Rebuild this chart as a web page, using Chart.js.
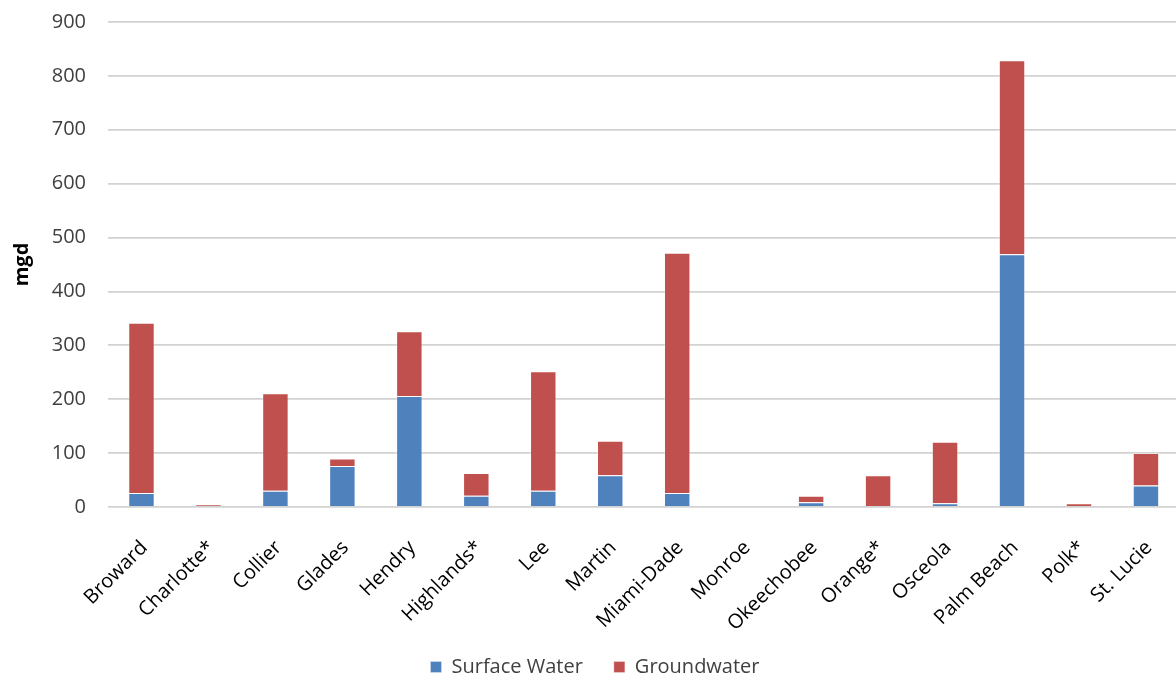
<!DOCTYPE html>
<html>
<head>
<meta charset="utf-8">
<script src="https://cdn.jsdelivr.net/npm/chart.js@4.4.1/dist/chart.umd.min.js"></script>
<style>
  html, body { margin: 0; padding: 0; background: #ffffff; overflow: hidden; }
  #wrap { position: relative; width: 1192px; height: 689px; margin-top: -12px; }
</style>
</head>
<body>
<div id="wrap"><canvas id="chart"></canvas></div>
<script>
// Water withdrawals by county (mgd), split by source
const counties = ["Broward", "Charlotte*", "Collier", "Glades", "Hendry", "Highlands*", "Lee", "Martin",
  "Miami-Dade", "Monroe", "Okeechobee", "Orange*", "Osceola", "Palm Beach", "Polk*", "St. Lucie"];
const surfaceWater = [26, 0, 30, 76, 206, 21, 30, 59, 26, 0, 9, 0, 7, 469, 0, 40];
const groundwater = [316, 5, 181, 14, 120, 42, 222, 64, 446, 0, 12, 59, 114, 360, 7, 60];
const yTicks = [0, 100, 200, 300, 400, 500, 600, 700, 800, 900];

const FONT = "'Open Sans', 'Noto Sans', sans-serif";
const TEXT = "#404040";

new Chart(document.getElementById("chart"), {
  type: "bar",
  data: {
    labels: counties,
    datasets: [
      { label: "Surface Water", data: surfaceWater, backgroundColor: "#4F81BD",
        borderColor: "rgba(255,255,255,0.3)", borderWidth: 1 },
      { label: "Groundwater", data: groundwater, backgroundColor: "#C0504D",
        borderColor: "rgba(255,255,255,0.3)", borderWidth: 1 }
    ]
  },
  options: {
    responsive: true,
    maintainAspectRatio: false,
    animation: false,
    layout: { padding: { top: 0, right: 2, left: 0, bottom: -10 } },
    datasets: { bar: { categoryPercentage: 1, barPercentage: 0.395 } },
    plugins: {
      tooltip: { enabled: false },
      legend: {
        position: "bottom",
        labels: {
          font: { family: FONT, size: 20 },
          color: TEXT,
          boxWidth: 11,
          boxHeight: 11,
          padding: 31
        }
      }
    },
    scales: {
      x: {
        stacked: true,
        grid: { display: false, drawTicks: false },
        border: { display: false },
        ticks: {
          color: "#000000",
          font: { family: FONT, size: 20 },
          minRotation: 45,
          maxRotation: 45,
          autoSkip: false,
          padding: 29,
          labelOffset: 3
        },
        afterFit: (s) => { s.height = 119; },
        // long rotated county names run slightly below the axis box; let them draw in full
        afterUpdate: (s) => { s._computeLabelArea = () => undefined; }
      },
      y: {
        stacked: true,
        min: 0,
        max: 900,
        afterBuildTicks: (s) => { s.ticks = yTicks.map(v => ({ value: v })); },
        grid: { color: "#d2d2d2", lineWidth: 1.8, drawTicks: false },
        border: { display: false },
        ticks: {
          color: TEXT,
          font: { family: FONT, size: 20 },
          padding: 22
        },
        title: {
          display: true,
          text: "mgd",
          color: "#000000",
          font: { family: FONT, size: 20, weight: "bold" },
          padding: { top: 10, bottom: 0 }
        },
        afterFit: (s) => { s.width = 108; }
      }
    }
  }
});
</script>
</body>
</html>
